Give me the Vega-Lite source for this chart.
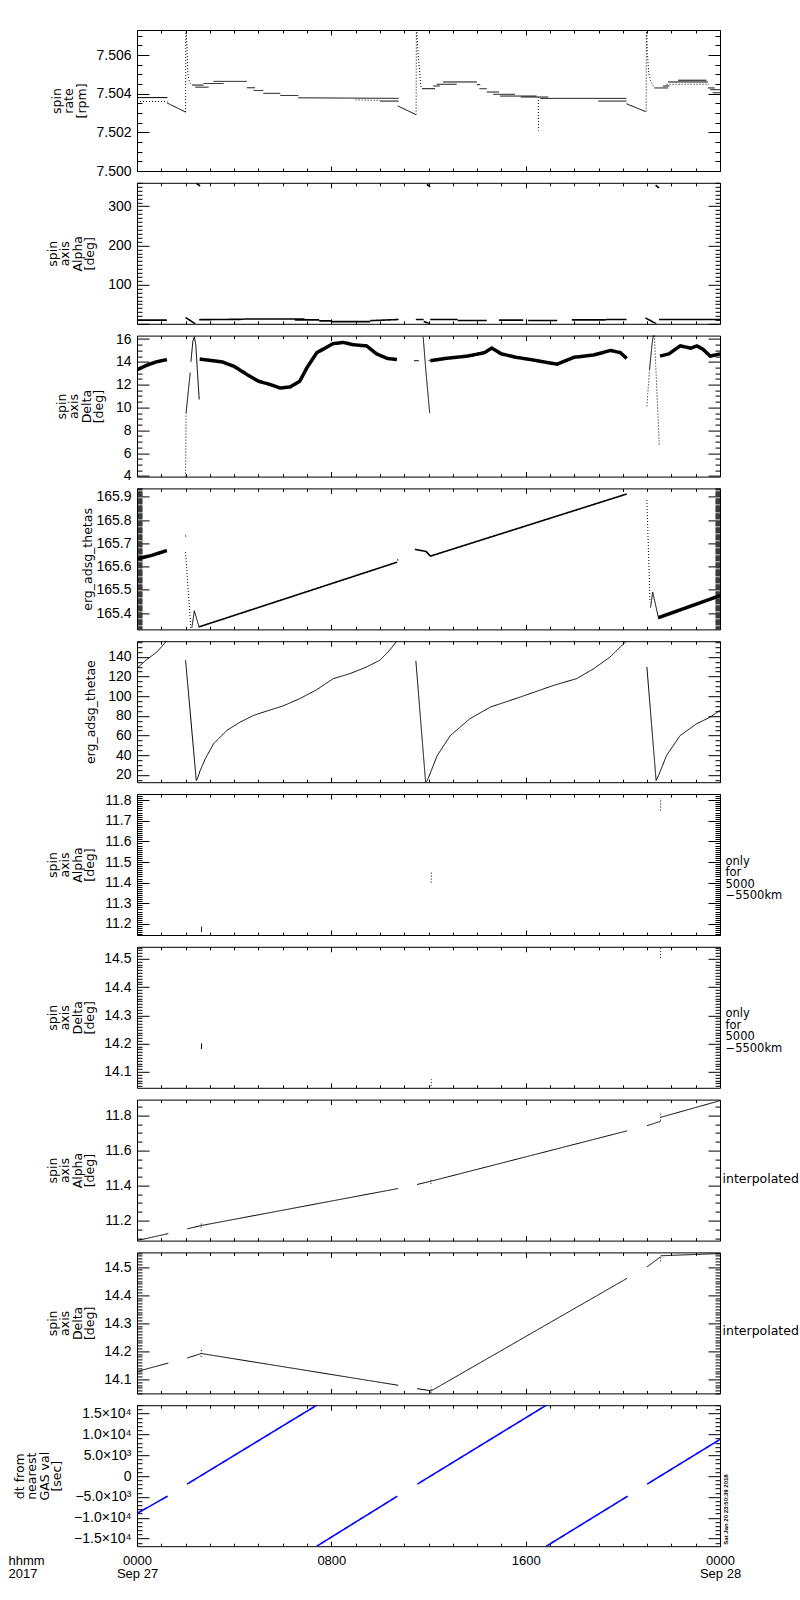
{
"$schema":"https://vega.github.io/schema/vega-lite/v6.json",
"background":"white",
"padding":{"left":8,"top":23,"right":0,"bottom":5},
"bounds":"flush",
"spacing":11.8,
"config":{
 "view":{"stroke":null},
 "axis":{"grid":false,"domainColor":"black","domainWidth":1,"tickColor":"black","tickWidth":1,"labelColor":"black","titleColor":"black","labelFont":"Liberation Sans","labelFontSize":14,"titleFont":"DejaVu Sans","titleFontSize":12.5,"titleFontWeight":"normal","labelOverlap":false,"labelFlush":false,"titleLineHeight":12.5},
 "line":{"strokeCap":"butt"}
},
"datasets":{
"p1":[
{"t":0,"v":7.5038,"s":"a1","k":"l"},{"t":1.25,"v":7.5038,"s":"a1","k":"l"},
{"t":0,"v":7.5036,"s":"a2","k":"d"},{"t":1.25,"v":7.5036,"s":"a2","k":"d"},
{"t":1.23,"v":7.50353,"s":"b","k":"l"},{"t":2.0,"v":7.50305,"s":"b","k":"l"},
{"t":2.0,"v":7.50305,"s":"c","k":"d"},{"t":2.01,"v":7.5075,"s":"c","k":"d"},
{"t":2.02,"v":7.5075,"s":"e","k":"d"},{"t":2.06,"v":7.5063,"s":"e","k":"d"},{"t":2.1,"v":7.5049,"s":"e","k":"d"},{"t":2.17,"v":7.50457,"s":"e","k":"d"},{"t":2.26,"v":7.50445,"s":"e","k":"d"},
{"t":2.26,"v":7.50445,"s":"f1","k":"l"},{"t":2.74,"v":7.50445,"s":"f1","k":"l"},
{"t":2.4,"v":7.50434,"s":"f2","k":"l"},{"t":2.95,"v":7.50434,"s":"f2","k":"l"},
{"t":2.74,"v":7.50453,"s":"f3","k":"l"},{"t":3.56,"v":7.50453,"s":"f3","k":"l"},
{"t":3.15,"v":7.50464,"s":"f4","k":"l"},{"t":4.52,"v":7.50464,"s":"f4","k":"l"},
{"t":4.52,"v":7.50431,"s":"f5","k":"l"},{"t":4.86,"v":7.50431,"s":"f5","k":"l"},
{"t":4.8,"v":7.50417,"s":"f6","k":"l"},{"t":5.2,"v":7.50417,"s":"f6","k":"l"},
{"t":5.2,"v":7.50402,"s":"f7","k":"l"},{"t":5.9,"v":7.50402,"s":"f7","k":"l"},
{"t":5.9,"v":7.50391,"s":"f8","k":"l"},{"t":6.64,"v":7.50391,"s":"f8","k":"l"},
{"t":6.64,"v":7.50379,"s":"f9","k":"l"},{"t":10.77,"v":7.50376,"s":"f9","k":"l"},
{"t":9.0,"v":7.50368,"s":"f10","k":"d"},{"t":10.0,"v":7.50366,"s":"f10","k":"d"},
{"t":10.0,"v":7.50362,"s":"f11","k":"l"},{"t":10.77,"v":7.50362,"s":"f11","k":"l"},
{"t":10.73,"v":7.50337,"s":"g","k":"l"},{"t":11.48,"v":7.50292,"s":"g","k":"l"},
{"t":11.49,"v":7.50292,"s":"h","k":"d"},{"t":11.5,"v":7.5075,"s":"h","k":"d"},
{"t":11.51,"v":7.5075,"s":"i","k":"d"},{"t":11.55,"v":7.50643,"s":"i","k":"d"},{"t":11.63,"v":7.50522,"s":"i","k":"d"},{"t":11.68,"v":7.50443,"s":"i","k":"d"},{"t":11.73,"v":7.50426,"s":"i","k":"d"},
{"t":11.73,"v":7.50426,"s":"j1","k":"l"},{"t":12.27,"v":7.50426,"s":"j1","k":"l"},
{"t":12.2,"v":7.5044,"s":"j2","k":"l"},{"t":12.47,"v":7.5044,"s":"j2","k":"l"},
{"t":12.34,"v":7.50449,"s":"j3","k":"l"},{"t":13.16,"v":7.50449,"s":"j3","k":"l"},
{"t":12.6,"v":7.50461,"s":"j4","k":"l"},{"t":13.99,"v":7.50461,"s":"j4","k":"l"},
{"t":13.99,"v":7.50447,"s":"j5","k":"l"},{"t":14.13,"v":7.50447,"s":"j5","k":"l"},
{"t":14.1,"v":7.50426,"s":"j6","k":"l"},{"t":14.4,"v":7.50426,"s":"j6","k":"l"},
{"t":14.4,"v":7.50409,"s":"j7","k":"l"},{"t":14.9,"v":7.50409,"s":"j7","k":"l"},
{"t":14.67,"v":7.50397,"s":"j8","k":"l"},{"t":15.56,"v":7.50397,"s":"j8","k":"l"},
{"t":14.95,"v":7.50388,"s":"j9","k":"l"},{"t":16.45,"v":7.50388,"s":"j9","k":"l"},
{"t":15.8,"v":7.50383,"s":"j10","k":"l"},{"t":16.93,"v":7.50383,"s":"j10","k":"l"},
{"t":16.52,"v":7.50383,"s":"dp","k":"d"},{"t":16.53,"v":7.50209,"s":"dp","k":"d"},
{"t":16.6,"v":7.50376,"s":"j11","k":"l"},{"t":20.15,"v":7.50376,"s":"j11","k":"l"},
{"t":18.99,"v":7.50362,"s":"j12","k":"l"},{"t":20.15,"v":7.50362,"s":"j12","k":"l"},
{"t":20.15,"v":7.50348,"s":"m","k":"l"},{"t":20.93,"v":7.50308,"s":"m","k":"l"},
{"t":20.96,"v":7.50308,"s":"n","k":"d"},{"t":20.97,"v":7.5075,"s":"n","k":"d"},
{"t":20.98,"v":7.5075,"s":"o","k":"d"},{"t":21.01,"v":7.50609,"s":"o","k":"d"},{"t":21.07,"v":7.50504,"s":"o","k":"d"},{"t":21.16,"v":7.50461,"s":"o","k":"d"},{"t":21.3,"v":7.5043,"s":"o","k":"d"},
{"t":21.3,"v":7.5043,"s":"q1","k":"l"},{"t":21.86,"v":7.5043,"s":"q1","k":"l"},
{"t":21.65,"v":7.5044,"s":"q2","k":"l"},{"t":21.92,"v":7.5044,"s":"q2","k":"l"},
{"t":21.86,"v":7.50461,"s":"q3","k":"l"},{"t":23.5,"v":7.50461,"s":"q3","k":"l"},
{"t":22.27,"v":7.5047,"s":"q4","k":"l"},{"t":23.44,"v":7.5047,"s":"q4","k":"l"},
{"t":21.8,"v":7.50449,"s":"q5","k":"d"},{"t":23.55,"v":7.50449,"s":"q5","k":"d"},
{"t":23.5,"v":7.5043,"s":"q6","k":"l"},{"t":23.78,"v":7.5043,"s":"q6","k":"l"},
{"t":23.6,"v":7.50421,"s":"q7","k":"l"},{"t":24,"v":7.50421,"s":"q7","k":"l"},
{"t":23.7,"v":7.50405,"s":"q8","k":"l"},{"t":24,"v":7.50405,"s":"q8","k":"l"}
],
"p2":[
{"t":0,"v":9.5,"s":"a","k":"m"},{"t":1.23,"v":9.5,"s":"a","k":"m"},
{"t":2.0,"v":16,"s":"b","k":"m"},{"t":2.4,"v":0,"s":"b","k":"m"},
{"t":2.45,"v":358,"s":"c","k":"m"},{"t":2.6,"v":352,"s":"c","k":"m"},
{"t":2.56,"v":10.5,"s":"d","k":"m"},{"t":4.4,"v":11.5,"s":"d","k":"m"},
{"t":4.4,"v":12.4,"s":"e","k":"m"},{"t":6.9,"v":12.4,"s":"e","k":"m"},
{"t":6.5,"v":10,"s":"f","k":"m"},{"t":7.5,"v":10,"s":"f","k":"m"},
{"t":7.5,"v":7.5,"s":"g","k":"m"},{"t":8.0,"v":7.5,"s":"g","k":"m"},
{"t":8.0,"v":5.6,"s":"h","k":"m"},{"t":9.6,"v":5.6,"s":"h","k":"m"},
{"t":9.6,"v":8,"s":"i","k":"m"},{"t":10.77,"v":11,"s":"i","k":"m"},
{"t":11.48,"v":11,"s":"j","k":"m"},{"t":11.8,"v":11,"s":"j","k":"m"},
{"t":11.8,"v":6,"s":"k2","k":"m"},{"t":12.07,"v":0,"s":"k2","k":"m"},
{"t":11.93,"v":356,"s":"m2","k":"m"},{"t":12.07,"v":350,"s":"m2","k":"m"},
{"t":12.07,"v":11,"s":"n","k":"m"},{"t":13.2,"v":11,"s":"n","k":"m"},
{"t":13.2,"v":8.5,"s":"o","k":"m"},{"t":14.4,"v":8.5,"s":"o","k":"m"},
{"t":14.9,"v":9.3,"s":"p","k":"m"},{"t":15.9,"v":9.3,"s":"p","k":"m"},
{"t":16.1,"v":8.5,"s":"q","k":"m"},{"t":17.3,"v":8.5,"s":"q","k":"m"},
{"t":17.9,"v":10,"s":"r","k":"m"},{"t":19.3,"v":10,"s":"r","k":"m"},
{"t":19.3,"v":11,"s":"u","k":"m"},{"t":20.15,"v":11,"s":"u","k":"m"},
{"t":20.93,"v":15,"s":"w","k":"m"},{"t":21.38,"v":0,"s":"w","k":"m"},
{"t":21.35,"v":354,"s":"x","k":"m"},{"t":21.49,"v":347,"s":"x","k":"m"},
{"t":21.49,"v":11,"s":"y","k":"m"},{"t":24,"v":11,"s":"y","k":"m"}
],
"p3":[
{"t":0,"v":13.3,"s":"b1","k":"b"},{"t":0.4,"v":13.7,"s":"b1","k":"b"},{"t":0.8,"v":14.0,"s":"b1","k":"b"},{"t":1.23,"v":14.2,"s":"b1","k":"b"},
{"t":2.0,"v":3.94,"s":"s1","k":"d"},{"t":2.02,"v":9.5,"s":"s1","k":"d"},
{"t":2.02,"v":9.5,"s":"s2","k":"l"},{"t":2.19,"v":13.05,"s":"s2","k":"l"},
{"t":2.22,"v":14,"s":"h1","k":"l"},{"t":2.3,"v":15.8,"s":"h1","k":"l"},{"t":2.36,"v":16.2,"s":"h1","k":"l"},{"t":2.42,"v":15.5,"s":"h1","k":"l"},{"t":2.56,"v":10.7,"s":"h1","k":"l"},
{"t":2.58,"v":14.24,"s":"b2","k":"b"},{"t":3.5,"v":14.0,"s":"b2","k":"b"},{"t":4.0,"v":13.6,"s":"b2","k":"b"},{"t":4.52,"v":12.9,"s":"b2","k":"b"},{"t":5.0,"v":12.3,"s":"b2","k":"b"},{"t":5.5,"v":12.0,"s":"b2","k":"b"},{"t":5.9,"v":11.7,"s":"b2","k":"b"},{"t":6.3,"v":11.8,"s":"b2","k":"b"},{"t":6.7,"v":12.3,"s":"b2","k":"b"},{"t":7.0,"v":13.5,"s":"b2","k":"b"},{"t":7.4,"v":14.8,"s":"b2","k":"b"},{"t":8.08,"v":15.6,"s":"b2","k":"b"},{"t":8.5,"v":15.7,"s":"b2","k":"b"},{"t":8.9,"v":15.5,"s":"b2","k":"b"},{"t":9.45,"v":15.4,"s":"b2","k":"b"},{"t":9.86,"v":14.7,"s":"b2","k":"b"},{"t":10.3,"v":14.3,"s":"b2","k":"b"},{"t":10.7,"v":14.2,"s":"b2","k":"b"},
{"t":11.4,"v":14.1,"s":"i1","k":"l"},{"t":11.6,"v":14.1,"s":"i1","k":"l"},
{"t":12.0,"v":14.1,"s":"i2","k":"l"},{"t":12.2,"v":14.1,"s":"i2","k":"l"},
{"t":11.78,"v":16.2,"s":"s3","k":"l"},{"t":11.9,"v":13,"s":"s3","k":"l"},{"t":12.05,"v":9.5,"s":"s3","k":"l"},
{"t":12.08,"v":14.1,"s":"b3","k":"b"},{"t":12.7,"v":14.3,"s":"b3","k":"b"},{"t":13.6,"v":14.5,"s":"b3","k":"b"},{"t":14.3,"v":14.8,"s":"b3","k":"b"},{"t":14.6,"v":15.2,"s":"b3","k":"b"},{"t":15.0,"v":14.7,"s":"b3","k":"b"},{"t":15.6,"v":14.4,"s":"b3","k":"b"},{"t":16.2,"v":14.2,"s":"b3","k":"b"},{"t":17.0,"v":13.9,"s":"b3","k":"b"},{"t":17.3,"v":13.8,"s":"b3","k":"b"},{"t":18.0,"v":14.4,"s":"b3","k":"b"},{"t":18.8,"v":14.6,"s":"b3","k":"b"},{"t":19.5,"v":15.0,"s":"b3","k":"b"},{"t":19.9,"v":14.8,"s":"b3","k":"b"},{"t":20.16,"v":14.3,"s":"b3","k":"b"},
{"t":20.99,"v":10.1,"s":"s4","k":"d"},{"t":21.1,"v":13.35,"s":"s4","k":"d"},
{"t":21.1,"v":13.35,"s":"h2","k":"l"},{"t":21.2,"v":15.5,"s":"h2","k":"l"},{"t":21.26,"v":16.4,"s":"h2","k":"l"},{"t":21.3,"v":16.3,"s":"h2","k":"l"},
{"t":21.3,"v":16.3,"s":"s5","k":"d"},{"t":21.5,"v":6.7,"s":"s5","k":"d"},
{"t":21.53,"v":14.5,"s":"b4","k":"b"},{"t":21.9,"v":14.7,"s":"b4","k":"b"},{"t":22.36,"v":15.4,"s":"b4","k":"b"},{"t":22.8,"v":15.2,"s":"b4","k":"b"},{"t":23.05,"v":15.4,"s":"b4","k":"b"},{"t":23.3,"v":15.1,"s":"b4","k":"b"},{"t":23.6,"v":14.5,"s":"b4","k":"b"},{"t":24,"v":14.7,"s":"b4","k":"b"}
],
"p4":[
{"t":0,"v":165.633,"s":"b1","k":"b"},{"t":0.6,"v":165.648,"s":"b1","k":"b"},{"t":1.23,"v":165.669,"s":"b1","k":"b"},
{"t":2.0,"v":165.734,"s":"pt","k":"l"},{"t":2.01,"v":165.728,"s":"pt","k":"l"},
{"t":2.0,"v":165.662,"s":"s1","k":"d"},{"t":2.22,"v":165.33,"s":"s1","k":"d"},
{"t":2.26,"v":165.338,"s":"h1","k":"l"},{"t":2.36,"v":165.41,"s":"h1","k":"l"},{"t":2.56,"v":165.338,"s":"h1","k":"l"},
{"t":2.56,"v":165.341,"s":"r1","k":"m"},{"t":10.71,"v":165.619,"s":"r1","k":"m"},
{"t":10.73,"v":165.632,"s":"pt2","k":"l"},{"t":10.74,"v":165.625,"s":"pt2","k":"l"},
{"t":11.44,"v":165.674,"s":"r2","k":"m"},{"t":11.9,"v":165.665,"s":"r2","k":"m"},{"t":12.08,"v":165.645,"s":"r2","k":"m"},{"t":20.16,"v":165.912,"s":"r2","k":"m"},
{"t":20.99,"v":165.886,"s":"s2","k":"d"},{"t":21.12,"v":165.446,"s":"s2","k":"d"},
{"t":21.14,"v":165.424,"s":"h2","k":"l"},{"t":21.23,"v":165.49,"s":"h2","k":"l"},{"t":21.48,"v":165.374,"s":"h2","k":"l"},
{"t":21.48,"v":165.381,"s":"b2","k":"b"},{"t":24,"v":165.475,"s":"b2","k":"b"}
],
"p5":[
{"t":0,"v":128.5,"s":"a","k":"l"},{"t":0.41,"v":137.5,"s":"a","k":"l"},{"t":0.82,"v":145,"s":"a","k":"l"},{"t":1.23,"v":156.5,"s":"a","k":"l"},
{"t":2.0,"v":136.6,"s":"b","k":"l"},{"t":2.44,"v":14.2,"s":"b","k":"l"},{"t":2.47,"v":15,"s":"b","k":"l"},{"t":2.6,"v":24.3,"s":"b","k":"l"},{"t":2.81,"v":36.3,"s":"b","k":"l"},{"t":3.15,"v":51.6,"s":"b","k":"l"},{"t":3.7,"v":65.2,"s":"b","k":"l"},{"t":4.25,"v":73.7,"s":"b","k":"l"},{"t":4.8,"v":80.5,"s":"b","k":"l"},{"t":5.34,"v":84.9,"s":"b","k":"l"},{"t":6.03,"v":90.3,"s":"b","k":"l"},{"t":6.7,"v":97.5,"s":"b","k":"l"},{"t":7.4,"v":106.7,"s":"b","k":"l"},{"t":8.08,"v":117.9,"s":"b","k":"l"},{"t":8.77,"v":123,"s":"b","k":"l"},{"t":9.45,"v":129.8,"s":"b","k":"l"},{"t":10.0,"v":136.6,"s":"b","k":"l"},{"t":10.4,"v":146.8,"s":"b","k":"l"},{"t":10.71,"v":156.5,"s":"b","k":"l"},
{"t":11.48,"v":136,"s":"c","k":"l"},{"t":11.88,"v":12.6,"s":"c","k":"l"},{"t":11.95,"v":14.1,"s":"c","k":"l"},{"t":12.36,"v":39.7,"s":"c","k":"l"},{"t":12.9,"v":60,"s":"c","k":"l"},{"t":13.7,"v":77,"s":"c","k":"l"},{"t":14.55,"v":89,"s":"c","k":"l"},{"t":15.78,"v":99.2,"s":"c","k":"l"},{"t":17.15,"v":111,"s":"c","k":"l"},{"t":18.1,"v":117.9,"s":"c","k":"l"},{"t":18.8,"v":128,"s":"c","k":"l"},{"t":19.48,"v":140,"s":"c","k":"l"},{"t":20.16,"v":156.5,"s":"c","k":"l"},
{"t":20.99,"v":129.8,"s":"d","k":"l"},{"t":21.37,"v":14.2,"s":"d","k":"l"},{"t":21.47,"v":19.3,"s":"d","k":"l"},{"t":21.8,"v":39.7,"s":"d","k":"l"},{"t":22.36,"v":60,"s":"d","k":"l"},{"t":23.04,"v":72,"s":"d","k":"l"},{"t":23.6,"v":78.8,"s":"d","k":"l"},{"t":24,"v":85.6,"s":"d","k":"l"}
],
"p6":[
{"t":2.65,"v":11.16,"s":"a","k":"l"},{"t":2.66,"v":11.187,"s":"a","k":"l"},
{"t":12.11,"v":11.40,"s":"b","k":"d"},{"t":12.12,"v":11.45,"s":"b","k":"d"},
{"t":21.55,"v":11.75,"s":"c","k":"d"},{"t":21.56,"v":11.81,"s":"c","k":"d"}
],
"p7":[
{"t":2.65,"v":14.181,"s":"a","k":"l"},{"t":2.66,"v":14.201,"s":"a","k":"l"},
{"t":12.11,"v":14.05,"s":"b","k":"d"},{"t":12.12,"v":14.074,"s":"b","k":"d"},
{"t":21.55,"v":14.502,"s":"c","k":"d"},{"t":21.56,"v":14.537,"s":"c","k":"d"}
],
"p8":[
{"t":0,"v":11.086,"s":"a","k":"l"},{"t":1.29,"v":11.126,"s":"a","k":"l"},
{"t":2.07,"v":11.153,"s":"b","k":"l"},{"t":2.65,"v":11.172,"s":"b","k":"l"},{"t":10.75,"v":11.383,"s":"b","k":"l"},
{"t":2.64,"v":11.16,"s":"x1","k":"d"},{"t":2.65,"v":11.19,"s":"x1","k":"d"},
{"t":11.53,"v":11.406,"s":"c","k":"l"},{"t":12.11,"v":11.425,"s":"c","k":"l"},{"t":20.18,"v":11.712,"s":"c","k":"l"},
{"t":12.1,"v":11.41,"s":"x2","k":"d"},{"t":12.11,"v":11.445,"s":"x2","k":"d"},
{"t":20.99,"v":11.741,"s":"d","k":"l"},{"t":21.55,"v":11.766,"s":"d","k":"l"},
{"t":21.56,"v":11.789,"s":"e","k":"l"},{"t":24,"v":11.884,"s":"e","k":"l"},
{"t":21.55,"v":11.77,"s":"x3","k":"d"},{"t":21.56,"v":11.82,"s":"x3","k":"d"}
],
"p9":[
{"t":0,"v":14.128,"s":"a","k":"l"},{"t":1.29,"v":14.158,"s":"a","k":"l"},
{"t":2.07,"v":14.176,"s":"b","k":"l"},{"t":2.65,"v":14.192,"s":"b","k":"l"},{"t":10.75,"v":14.079,"s":"b","k":"l"},
{"t":2.64,"v":14.18,"s":"x1","k":"d"},{"t":2.65,"v":14.205,"s":"x1","k":"d"},
{"t":11.53,"v":14.067,"s":"c","k":"l"},{"t":12.11,"v":14.059,"s":"c","k":"l"},{"t":20.18,"v":14.46,"s":"c","k":"l"},
{"t":12.1,"v":14.052,"s":"x2","k":"d"},{"t":12.11,"v":14.075,"s":"x2","k":"d"},
{"t":20.99,"v":14.5,"s":"d","k":"l"},{"t":21.55,"v":14.536,"s":"d","k":"l"},
{"t":21.56,"v":14.54,"s":"e","k":"l"},{"t":24,"v":14.548,"s":"e","k":"l"},
{"t":21.55,"v":14.52,"s":"x3","k":"d"},{"t":21.56,"v":14.54,"s":"x3","k":"d"}
],
"p10":[
{"t":0,"v":-8960,"s":"a","k":"m"},{"t":1.26,"v":-4800,"s":"a","k":"m"},
{"t":2.06,"v":-1920,"s":"b","k":"m"},{"t":7.4,"v":17000,"s":"b","k":"m"},
{"t":7.4,"v":-16800,"s":"c","k":"m"},{"t":10.72,"v":-4800,"s":"c","k":"m"},
{"t":11.54,"v":-1920,"s":"d","k":"m"},{"t":16.85,"v":17000,"s":"d","k":"m"},
{"t":16.85,"v":-16800,"s":"e","k":"m"},{"t":20.2,"v":-4800,"s":"e","k":"m"},
{"t":21.0,"v":-1920,"s":"f","k":"m"},{"t":24,"v":8800,"s":"f","k":"m"}
]
},
"vconcat":[
{"width":583,"height":141,"data":{"name":"p1"},
 "layer":[
  {"mark":{"type":"line","clip":true,"color":"black"},
   "encoding":{
    "x":{"field":"t","type":"quantitative","scale":{"domain":[0,24],"nice":false,"zero":false},"axis":{"values":{"expr":"sequence(0,25,1)"},"tickSize":{"expr":"datum.value % 8 == 0 ? -5 : -3"},"labels":false,"title":null}},
    "y":{"field":"v","type":"quantitative","scale":{"domain":[7.5,7.5073],"nice":false,"zero":false},"axis":{"values":{"expr":"sequence(7.5,7.5071,0.0005)"},"tickSize":{"expr":"abs(datum.value/0.002-round(datum.value/0.002))<0.01 ? -12 : -5"},"labelExpr":"abs(datum.value/0.002-round(datum.value/0.002))<0.01 ? format(datum.value,'.3f') : ''","labelPadding":18,"title":["spin","rate","[rpm]"],"titleX":-81,"titleBaseline":"middle","titleAlign":"center"}},
    "detail":{"field":"s"},
    "strokeWidth":{"field":"k","type":"nominal","scale":{"type":"ordinal","domain":["l","d","b","m"],"range":[1,1,3.5,1.6]},"legend":null},
    "strokeDash":{"field":"k","type":"nominal","scale":{"domain":["l","d","b","m"],"range":[[1,0],[1,2],[1,0],[1,0]]},"legend":null}}},
  {"mark":{"type":"point","opacity":0},
   "encoding":{
    "x":{"field":"t","type":"quantitative","scale":{"domain":[0,24],"nice":false,"zero":false},"axis":{"orient":"top","values":{"expr":"sequence(0,25,1)"},"tickSize":{"expr":"datum.value % 8 == 0 ? -5 : -3"},"labels":false,"title":null}},
    "y":{"field":"v","type":"quantitative","scale":{"domain":[7.5,7.5073],"nice":false,"zero":false},"axis":{"orient":"right","values":{"expr":"sequence(7.5,7.5071,0.0005)"},"tickSize":{"expr":"abs(datum.value/0.002-round(datum.value/0.002))<0.01 ? -12 : -5"},"labels":false,"title":null}}}}
 ],
 "resolve":{"axis":{"x":"independent","y":"independent"}}},
{"width":583,"height":141,"data":{"name":"p2"},
 "layer":[
  {"mark":{"type":"line","clip":true,"color":"black"},
   "encoding":{
    "x":{"field":"t","type":"quantitative","scale":{"domain":[0,24],"nice":false,"zero":false},"axis":{"values":{"expr":"sequence(0,25,1)"},"tickSize":{"expr":"datum.value % 8 == 0 ? -5 : -3"},"labels":false,"title":null}},
    "y":{"field":"v","type":"quantitative","scale":{"domain":[0,360],"nice":false,"zero":false},"axis":{"values":{"expr":"sequence(0,361,10)"},"tickSize":{"expr":"datum.value % 100 == 0 ? -12 : -5"},"labelExpr":"(datum.value % 100 == 0 && datum.value > 0) ? format(datum.value,'d') : ''","labelPadding":18,"title":["spin","axis","Alpha","[deg]"],"titleX":-85,"titleBaseline":"middle","titleAlign":"center"}},
    "detail":{"field":"s"},
    "strokeWidth":{"field":"k","type":"nominal","scale":{"type":"ordinal","domain":["l","d","b","m"],"range":[1,1,3.5,1.6]},"legend":null},
    "strokeDash":{"field":"k","type":"nominal","scale":{"domain":["l","d","b","m"],"range":[[1,0],[1,2],[1,0],[1,0]]},"legend":null}}},
  {"mark":{"type":"point","opacity":0},
   "encoding":{
    "x":{"field":"t","type":"quantitative","scale":{"domain":[0,24],"nice":false,"zero":false},"axis":{"orient":"top","values":{"expr":"sequence(0,25,1)"},"tickSize":{"expr":"datum.value % 8 == 0 ? -5 : -3"},"labels":false,"title":null}},
    "y":{"field":"v","type":"quantitative","scale":{"domain":[0,360],"nice":false,"zero":false},"axis":{"orient":"right","values":{"expr":"sequence(0,361,10)"},"tickSize":{"expr":"datum.value % 100 == 0 ? -12 : -5"},"labels":false,"title":null}}}}
 ],
 "resolve":{"axis":{"x":"independent","y":"independent"}}},
{"width":583,"height":141,"data":{"name":"p3"},
 "layer":[
  {"mark":{"type":"line","clip":true,"color":"black"},
   "encoding":{
    "x":{"field":"t","type":"quantitative","scale":{"domain":[0,24],"nice":false,"zero":false},"axis":{"values":{"expr":"sequence(0,25,1)"},"tickSize":{"expr":"datum.value % 8 == 0 ? -5 : -3"},"labels":false,"title":null}},
    "y":{"field":"v","type":"quantitative","scale":{"domain":[3.94,16.3],"nice":false,"zero":false},"axis":{"values":{"expr":"sequence(4,16.1,0.5)"},"tickSize":{"expr":"datum.value % 2 == 0 ? -12 : -5"},"labelExpr":"datum.value % 2 == 0 ? format(datum.value,'d') : ''","labelPadding":18,"title":["spin","axis","Delta","[deg]"],"titleX":-76,"titleBaseline":"middle","titleAlign":"center"}},
    "detail":{"field":"s"},
    "strokeWidth":{"field":"k","type":"nominal","scale":{"type":"ordinal","domain":["l","d","b","m"],"range":[1,1,3.5,1.6]},"legend":null},
    "strokeDash":{"field":"k","type":"nominal","scale":{"domain":["l","d","b","m"],"range":[[1,0],[1,2],[1,0],[1,0]]},"legend":null}}},
  {"mark":{"type":"point","opacity":0},
   "encoding":{
    "x":{"field":"t","type":"quantitative","scale":{"domain":[0,24],"nice":false,"zero":false},"axis":{"orient":"top","values":{"expr":"sequence(0,25,1)"},"tickSize":{"expr":"datum.value % 8 == 0 ? -5 : -3"},"labels":false,"title":null}},
    "y":{"field":"v","type":"quantitative","scale":{"domain":[3.94,16.3],"nice":false,"zero":false},"axis":{"orient":"right","values":{"expr":"sequence(4,16.1,0.5)"},"tickSize":{"expr":"datum.value % 2 == 0 ? -12 : -5"},"labels":false,"title":null}}}}
 ],
 "resolve":{"axis":{"x":"independent","y":"independent"}}},
{"width":583,"height":141,"data":{"name":"p4"},
 "layer":[
  {"mark":{"type":"line","clip":true,"color":"black"},
   "encoding":{
    "x":{"field":"t","type":"quantitative","scale":{"domain":[0,24],"nice":false,"zero":false},"axis":{"values":{"expr":"sequence(0,25,1)"},"tickSize":{"expr":"datum.value % 8 == 0 ? -5 : -3"},"labels":false,"title":null}},
    "y":{"field":"v","type":"quantitative","scale":{"domain":[165.33,165.936],"nice":false,"zero":false},"axis":{"values":{"expr":"sequence(165.335,165.936,0.005)"},"tickSize":{"expr":"abs(datum.value*10-round(datum.value*10))<0.01 ? -12 : -5"},"labelExpr":"abs(datum.value*10-round(datum.value*10))<0.01 ? format(datum.value,'.1f') : ''","labelPadding":18,"title":"erg_adsg_thetas","titleX":-50,"titleBaseline":"middle","titleAlign":"center"}},
    "detail":{"field":"s"},
    "strokeWidth":{"field":"k","type":"nominal","scale":{"type":"ordinal","domain":["l","d","b","m"],"range":[1,1,3.5,1.6]},"legend":null},
    "strokeDash":{"field":"k","type":"nominal","scale":{"domain":["l","d","b","m"],"range":[[1,0],[1,2],[1,0],[1,0]]},"legend":null}}},
  {"mark":{"type":"point","opacity":0},
   "encoding":{
    "x":{"field":"t","type":"quantitative","scale":{"domain":[0,24],"nice":false,"zero":false},"axis":{"orient":"top","values":{"expr":"sequence(0,25,1)"},"tickSize":{"expr":"datum.value % 8 == 0 ? -5 : -3"},"labels":false,"title":null}},
    "y":{"field":"v","type":"quantitative","scale":{"domain":[165.33,165.936],"nice":false,"zero":false},"axis":{"orient":"right","values":{"expr":"sequence(165.335,165.936,0.005)"},"tickSize":{"expr":"abs(datum.value*10-round(datum.value*10))<0.01 ? -12 : -5"},"labels":false,"title":null}}}}
 ],
 "resolve":{"axis":{"x":"independent","y":"independent"}}},
{"width":583,"height":141,"data":{"name":"p5"},
 "layer":[
  {"mark":{"type":"line","clip":true,"color":"black"},
   "encoding":{
    "x":{"field":"t","type":"quantitative","scale":{"domain":[0,24],"nice":false,"zero":false},"axis":{"values":{"expr":"sequence(0,25,1)"},"tickSize":{"expr":"datum.value % 8 == 0 ? -5 : -3"},"labels":false,"title":null}},
    "y":{"field":"v","type":"quantitative","scale":{"domain":[12.5,156],"nice":false,"zero":false},"axis":{"values":{"expr":"sequence(15,156,5)"},"tickSize":{"expr":"datum.value % 20 == 0 ? -12 : -5"},"labelExpr":"datum.value % 20 == 0 ? format(datum.value,'d') : ''","labelPadding":18,"title":"erg_adsg_thetae","titleX":-47,"titleBaseline":"middle","titleAlign":"center"}},
    "detail":{"field":"s"},
    "strokeWidth":{"field":"k","type":"nominal","scale":{"type":"ordinal","domain":["l","d","b","m"],"range":[1,1,3.5,1.6]},"legend":null},
    "strokeDash":{"field":"k","type":"nominal","scale":{"domain":["l","d","b","m"],"range":[[1,0],[1,2],[1,0],[1,0]]},"legend":null}}},
  {"mark":{"type":"point","opacity":0},
   "encoding":{
    "x":{"field":"t","type":"quantitative","scale":{"domain":[0,24],"nice":false,"zero":false},"axis":{"orient":"top","values":{"expr":"sequence(0,25,1)"},"tickSize":{"expr":"datum.value % 8 == 0 ? -5 : -3"},"labels":false,"title":null}},
    "y":{"field":"v","type":"quantitative","scale":{"domain":[12.5,156],"nice":false,"zero":false},"axis":{"orient":"right","values":{"expr":"sequence(15,156,5)"},"tickSize":{"expr":"datum.value % 20 == 0 ? -12 : -5"},"labels":false,"title":null}}}}
 ],
 "resolve":{"axis":{"x":"independent","y":"independent"}}},
{"width":583,"height":141,"data":{"name":"p6"},
 "layer":[
  {"mark":{"type":"line","clip":true,"color":"black"},
   "encoding":{
    "x":{"field":"t","type":"quantitative","scale":{"domain":[0,24],"nice":false,"zero":false},"axis":{"values":{"expr":"sequence(0,25,1)"},"tickSize":{"expr":"datum.value % 8 == 0 ? -5 : -3"},"labels":false,"title":null}},
    "y":{"field":"v","type":"quantitative","scale":{"domain":[11.146,11.83],"nice":false,"zero":false},"axis":{"values":{"expr":"sequence(11.15,11.831,0.01)"},"tickSize":{"expr":"abs(datum.value*10-round(datum.value*10))<0.01 ? -12 : -5"},"labelExpr":"abs(datum.value*10-round(datum.value*10))<0.01 ? format(datum.value,'.1f') : ''","labelPadding":18,"title":["spin","axis","Alpha","[deg]"],"titleX":-85,"titleBaseline":"middle","titleAlign":"center"}},
    "detail":{"field":"s"},
    "strokeWidth":{"field":"k","type":"nominal","scale":{"type":"ordinal","domain":["l","d","b","m"],"range":[1,1,3.5,1.6]},"legend":null},
    "strokeDash":{"field":"k","type":"nominal","scale":{"domain":["l","d","b","m"],"range":[[1,0],[1,2],[1,0],[1,0]]},"legend":null}}},
  {"mark":{"type":"point","opacity":0},
   "encoding":{
    "x":{"field":"t","type":"quantitative","scale":{"domain":[0,24],"nice":false,"zero":false},"axis":{"orient":"top","values":{"expr":"sequence(0,25,1)"},"tickSize":{"expr":"datum.value % 8 == 0 ? -5 : -3"},"labels":false,"title":null}},
    "y":{"field":"v","type":"quantitative","scale":{"domain":[11.146,11.83],"nice":false,"zero":false},"axis":{"orient":"right","values":{"expr":"sequence(11.15,11.831,0.01)"},"tickSize":{"expr":"abs(datum.value*10-round(datum.value*10))<0.01 ? -12 : -5"},"labels":false,"title":["\u00a0only","for","5000","\u22125500km"],"titleAngle":0,"titleAlign":"left","titleBaseline":"middle","titleX":5,"titleY":67,"titleLineHeight":11.5,"titleFontSize":11.5}}}}
 ],
 "resolve":{"axis":{"x":"independent","y":"independent"}}},
{"width":583,"height":141,"data":{"name":"p7"},
 "layer":[
  {"mark":{"type":"line","clip":true,"color":"black"},
   "encoding":{
    "x":{"field":"t","type":"quantitative","scale":{"domain":[0,24],"nice":false,"zero":false},"axis":{"values":{"expr":"sequence(0,25,1)"},"tickSize":{"expr":"datum.value % 8 == 0 ? -5 : -3"},"labels":false,"title":null}},
    "y":{"field":"v","type":"quantitative","scale":{"domain":[14.044,14.542],"nice":false,"zero":false},"axis":{"values":{"expr":"sequence(14.05,14.541,0.01)"},"tickSize":{"expr":"abs(datum.value*10-round(datum.value*10))<0.01 ? -12 : -5"},"labelExpr":"abs(datum.value*10-round(datum.value*10))<0.01 ? format(datum.value,'.1f') : ''","labelPadding":18,"title":["spin","axis","Delta","[deg]"],"titleX":-85,"titleBaseline":"middle","titleAlign":"center"}},
    "detail":{"field":"s"},
    "strokeWidth":{"field":"k","type":"nominal","scale":{"type":"ordinal","domain":["l","d","b","m"],"range":[1,1,3.5,1.6]},"legend":null},
    "strokeDash":{"field":"k","type":"nominal","scale":{"domain":["l","d","b","m"],"range":[[1,0],[1,2],[1,0],[1,0]]},"legend":null}}},
  {"mark":{"type":"point","opacity":0},
   "encoding":{
    "x":{"field":"t","type":"quantitative","scale":{"domain":[0,24],"nice":false,"zero":false},"axis":{"orient":"top","values":{"expr":"sequence(0,25,1)"},"tickSize":{"expr":"datum.value % 8 == 0 ? -5 : -3"},"labels":false,"title":null}},
    "y":{"field":"v","type":"quantitative","scale":{"domain":[14.044,14.542],"nice":false,"zero":false},"axis":{"orient":"right","values":{"expr":"sequence(14.05,14.541,0.01)"},"tickSize":{"expr":"abs(datum.value*10-round(datum.value*10))<0.01 ? -12 : -5"},"labels":false,"title":["\u00a0only","for","5000","\u22125500km"],"titleAngle":0,"titleAlign":"left","titleBaseline":"middle","titleX":5,"titleY":67,"titleLineHeight":11.5,"titleFontSize":11.5}}}}
 ],
 "resolve":{"axis":{"x":"independent","y":"independent"}}},
{"width":583,"height":141,"data":{"name":"p8"},
 "layer":[
  {"mark":{"type":"line","clip":true,"color":"black"},
   "encoding":{
    "x":{"field":"t","type":"quantitative","scale":{"domain":[0,24],"nice":false,"zero":false},"axis":{"values":{"expr":"sequence(0,25,1)"},"tickSize":{"expr":"datum.value % 8 == 0 ? -5 : -3"},"labels":false,"title":null}},
    "y":{"field":"v","type":"quantitative","scale":{"domain":[11.086,11.89],"nice":false,"zero":false},"axis":{"values":{"expr":"sequence(11.1,11.891,0.05)"},"tickSize":{"expr":"abs(datum.value*5-round(datum.value*5))<0.01 ? -12 : -5"},"labelExpr":"abs(datum.value*5-round(datum.value*5))<0.01 ? format(datum.value,'.1f') : ''","labelPadding":18,"title":["spin","axis","Alpha","[deg]"],"titleX":-85,"titleBaseline":"middle","titleAlign":"center"}},
    "detail":{"field":"s"},
    "strokeWidth":{"field":"k","type":"nominal","scale":{"type":"ordinal","domain":["l","d","b","m"],"range":[1,1,3.5,1.6]},"legend":null},
    "strokeDash":{"field":"k","type":"nominal","scale":{"domain":["l","d","b","m"],"range":[[1,0],[1,2],[1,0],[1,0]]},"legend":null}}},
  {"mark":{"type":"point","opacity":0},
   "encoding":{
    "x":{"field":"t","type":"quantitative","scale":{"domain":[0,24],"nice":false,"zero":false},"axis":{"orient":"top","values":{"expr":"sequence(0,25,1)"},"tickSize":{"expr":"datum.value % 8 == 0 ? -5 : -3"},"labels":false,"title":null}},
    "y":{"field":"v","type":"quantitative","scale":{"domain":[11.086,11.89],"nice":false,"zero":false},"axis":{"orient":"right","values":{"expr":"sequence(11.1,11.891,0.05)"},"tickSize":{"expr":"abs(datum.value*5-round(datum.value*5))<0.01 ? -12 : -5"},"labels":false,"title":"interpolated","titleAngle":0,"titleAlign":"left","titleBaseline":"middle","titleX":2,"titleY":79,"titleFontSize":12.5}}}}
 ],
 "resolve":{"axis":{"x":"independent","y":"independent"}}},
{"width":583,"height":141,"data":{"name":"p9"},
 "layer":[
  {"mark":{"type":"line","clip":true,"color":"black"},
   "encoding":{
    "x":{"field":"t","type":"quantitative","scale":{"domain":[0,24],"nice":false,"zero":false},"axis":{"values":{"expr":"sequence(0,25,1)"},"tickSize":{"expr":"datum.value % 8 == 0 ? -5 : -3"},"labels":false,"title":null}},
    "y":{"field":"v","type":"quantitative","scale":{"domain":[14.05,14.552],"nice":false,"zero":false},"axis":{"values":{"expr":"sequence(14.05,14.551,0.01)"},"tickSize":{"expr":"abs(datum.value*10-round(datum.value*10))<0.01 ? -12 : -5"},"labelExpr":"abs(datum.value*10-round(datum.value*10))<0.01 ? format(datum.value,'.1f') : ''","labelPadding":18,"title":["spin","axis","Delta","[deg]"],"titleX":-85,"titleBaseline":"middle","titleAlign":"center"}},
    "detail":{"field":"s"},
    "strokeWidth":{"field":"k","type":"nominal","scale":{"type":"ordinal","domain":["l","d","b","m"],"range":[1,1,3.5,1.6]},"legend":null},
    "strokeDash":{"field":"k","type":"nominal","scale":{"domain":["l","d","b","m"],"range":[[1,0],[1,2],[1,0],[1,0]]},"legend":null}}},
  {"mark":{"type":"point","opacity":0},
   "encoding":{
    "x":{"field":"t","type":"quantitative","scale":{"domain":[0,24],"nice":false,"zero":false},"axis":{"orient":"top","values":{"expr":"sequence(0,25,1)"},"tickSize":{"expr":"datum.value % 8 == 0 ? -5 : -3"},"labels":false,"title":null}},
    "y":{"field":"v","type":"quantitative","scale":{"domain":[14.05,14.552],"nice":false,"zero":false},"axis":{"orient":"right","values":{"expr":"sequence(14.05,14.551,0.01)"},"tickSize":{"expr":"abs(datum.value*10-round(datum.value*10))<0.01 ? -12 : -5"},"labels":false,"title":"interpolated","titleAngle":0,"titleAlign":"left","titleBaseline":"middle","titleX":2,"titleY":78,"titleFontSize":12.5}}}}
 ],
 "resolve":{"axis":{"x":"independent","y":"independent"}}},
{"width":583,"height":141,"data":{"name":"p10"},
 "layer":[
  {"mark":{"type":"line","clip":true,"color":"#0000ff"},
   "encoding":{
    "x":{"field":"t","type":"quantitative","scale":{"domain":[0,24],"nice":false,"zero":false},"axis":{"values":{"expr":"sequence(0,25,1)"},"tickSize":{"expr":"datum.value % 8 == 0 ? -5 : -3"},"labelExpr":"datum.value == 0 ? ['0000','Sep 27'] : datum.value == 24 ? ['0000','Sep 28'] : datum.value == 8 ? '0800' : datum.value == 16 ? '1600' : ''","labelPadding":13,"labelFontSize":13,"labelLineHeight":13.5,"title":["hhmm","2017"],"titleFont":"Liberation Sans","titleFontSize":13,"titleLineHeight":13.5,"titleX":-129,"titleY":8,"titleAlign":"left","titleBaseline":"top","titleAnchor":"start"}},
    "y":{"field":"v","type":"quantitative","scale":{"domain":[-16800,17000],"nice":false,"zero":false},"axis":{"values":{"expr":"sequence(-16000,17001,1000)"},"tickSize":{"expr":"datum.value % 5000 == 0 ? -12 : -5"},"labelExpr":"datum.value % 5000 != 0 ? '' : datum.value == 0 ? '0' : (datum.value < 0 ? '\u2212' : '') + (abs(datum.value) >= 10000 ? format(abs(datum.value)/10000,'.1f') + '\u00d710\u2074' : format(abs(datum.value)/1000,'.1f') + '\u00d710\u00b3')","labelPadding":18,"title":["dt from","nearest","GAS val","[sec]"],"titleX":-118,"titleBaseline":"middle","titleAlign":"center"}},
    "detail":{"field":"s"},
    "strokeWidth":{"field":"k","type":"nominal","scale":{"type":"ordinal","domain":["l","d","b","m"],"range":[1,1,3.5,1.6]},"legend":null},
    "strokeDash":{"field":"k","type":"nominal","scale":{"domain":["l","d","b","m"],"range":[[1,0],[1,2],[1,0],[1,0]]},"legend":null}}},
  {"mark":{"type":"point","opacity":0},
   "encoding":{
    "x":{"field":"t","type":"quantitative","scale":{"domain":[0,24],"nice":false,"zero":false},"axis":{"orient":"top","values":{"expr":"sequence(0,25,1)"},"tickSize":{"expr":"datum.value % 8 == 0 ? -5 : -3"},"labels":false,"title":null}},
    "y":{"field":"v","type":"quantitative","scale":{"domain":[-16800,17000],"nice":false,"zero":false},"axis":{"orient":"right","values":{"expr":"sequence(-16000,17001,1000)"},"tickSize":{"expr":"datum.value % 5000 == 0 ? -12 : -5"},"labels":false,"title":"Sat Jan 20 23:50:39 2018","titleFont":"Liberation Sans","titleFontSize":6,"titleFontWeight":"bold","titleAngle":-90,"titleAlign":"left","titleBaseline":"top","titleX":2,"titleY":139}}}}
 ],
 "resolve":{"axis":{"x":"independent","y":"independent"}}}
]
}
